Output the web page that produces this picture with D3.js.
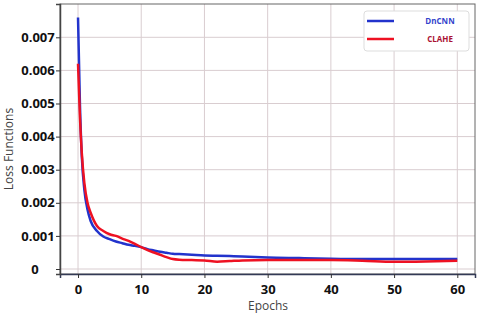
<!DOCTYPE html>
<html><head><meta charset="utf-8">
<script src="https://cdn.jsdelivr.net/npm/d3@7"></script>
<style>body{margin:0;background:#fff}svg{display:block}</style>
</head><body>
<svg id="c" width="480" height="315"></svg>
<script>
const epochs = [0, 0.3, 0.6, 1, 1.5, 2, 3, 4, 5, 6, 7, 8, 9, 10, 11, 12, 13, 14, 15, 16, 18, 20, 22, 24, 26, 30, 35, 40, 45, 50, 55, 60];
const dncnn = [0.0076, 0.0050, 0.0034, 0.0024, 0.0018, 0.00145, 0.00115, 0.00098, 0.0009, 0.00083, 0.00078, 0.00073, 0.0007, 0.00066, 0.0006, 0.00056, 0.00052, 0.00049, 0.00046, 0.00045, 0.00043, 0.00041, 0.0004, 0.00039, 0.00038, 0.00035, 0.00033, 0.00031, 0.0003, 0.0003, 0.0003, 0.0003];
const clahe = [0.0062, 0.0046, 0.0035, 0.0026, 0.002, 0.0017, 0.0013, 0.00115, 0.00105, 0.001, 0.00092, 0.00085, 0.00076, 0.00066, 0.00057, 0.0005, 0.00043, 0.00036, 0.0003, 0.00028, 0.00027, 0.00026, 0.00022, 0.00024, 0.00026, 0.00027, 0.00027, 0.00027, 0.00025, 0.00022, 0.00023, 0.00025];
const xTicks = [0, 10, 20, 30, 40, 50, 60];
const yTicks = [0, 0.001, 0.002, 0.003, 0.004, 0.005, 0.006, 0.007];
const yTickLabels = ["0", "0.001", "0.002", "0.003", "0.004", "0.005", "0.006", "0.007"];
const seriesNames = ["DnCNN", "CLAHE"];
const seriesColors = ["#2233cc", "#ee1122"];
const labelColors = ["#3344cc", "#aa1133"];

const L = 60, R = 475, T = 4, B = 274;
const svg = d3.select("#c");
const x = d3.scaleLinear().domain([-2.85, 62.8]).range([L, R]);
const y = d3.scaleLinear().domain([-0.000151, 0.008006]).range([B, T]);

// grid
const g = svg.append("g");
g.selectAll(".vg").data(xTicks).join("line")
  .attr("x1", d => x(d)).attr("x2", d => x(d)).attr("y1", T).attr("y2", B)
  .attr("stroke", "#d9cdd0").attr("stroke-width", 1);
g.selectAll(".hg").data(yTicks).join("line")
  .attr("x1", L).attr("x2", R).attr("y1", d => y(d)).attr("y2", d => y(d))
  .attr("stroke", "#d9cdd0").attr("stroke-width", 1);

// frame
svg.append("rect").attr("x", L).attr("y", T).attr("width", R - L).attr("height", B - T)
  .attr("fill", "none").attr("stroke", "#666").attr("stroke-width", 1);

// axes
const xAxis = d3.axisBottom(x).tickValues(xTicks).tickSize(4).tickPadding(7);
const ax = svg.append("g").attr("transform", `translate(0,${B})`).call(xAxis);
ax.select(".domain").attr("stroke", "#333a55").attr("stroke-width", 1.5);
ax.selectAll(".tick line").attr("stroke", "#333");
ax.selectAll("text").attr("font-family", "Open Sans").attr("font-weight", "bold")
  .attr("font-size", 13).attr("fill", "#111");

const yAxis = d3.axisLeft(y).tickValues(yTicks).tickSize(4).tickPadding(5)
  .tickFormat((d, i) => yTickLabels[i]);
const ay = svg.append("g").attr("transform", `translate(${L},0)`).call(yAxis);
ay.select(".domain").attr("stroke", "#444").attr("stroke-width", 1.5);
ay.selectAll(".tick line").attr("stroke", "#333");
ay.selectAll("text").attr("font-family", "Open Sans").attr("font-weight", "bold")
  .attr("font-size", 13).attr("fill", "#111")
  .attr("text-anchor", "middle").attr("x", (d, i) => (i === 0 ? 35 : 38) - L);

// labels
svg.append("text").attr("x", 268).attr("y", 310).attr("text-anchor", "middle")
  .attr("font-family", "Open Sans").attr("font-size", 12).attr("fill", "#444").text("Epochs");
svg.append("text").attr("transform", "translate(13,149) rotate(-90)").attr("text-anchor", "middle")
  .attr("font-family", "Open Sans").attr("font-size", 12).attr("fill", "#444").text("Loss Functions");

// lines
const line = d3.line().x((d, i) => x(epochs[i])).y(d => y(d)).curve(d3.curveMonotoneX);
[dncnn, clahe].forEach((s, k) => {
  svg.append("path").datum(s).attr("d", line).attr("fill", "none")
    .attr("stroke", seriesColors[k]).attr("stroke-width", 2.5).attr("stroke-linejoin", "round");
});

// legend
const lg = svg.append("g");
lg.append("rect").attr("x", 364).attr("y", 11).attr("width", 105).attr("height", 40).attr("rx", 3)
  .attr("fill", "#fff").attr("stroke", "#ddd");
seriesNames.forEach((n, k) => {
  const yy = 21 + k * 18;
  lg.append("line").attr("x1", 367).attr("x2", 394).attr("y1", yy).attr("y2", yy)
    .attr("stroke", seriesColors[k]).attr("stroke-width", 2.5);
  lg.append("text").attr("x", 440).attr("y", yy + 3).attr("text-anchor", "middle")
    .attr("font-family", "Open Sans").attr("font-weight", "bold").attr("font-size", 8)
    .attr("fill", labelColors[k]).text(n);
});
</script>
</body></html>
